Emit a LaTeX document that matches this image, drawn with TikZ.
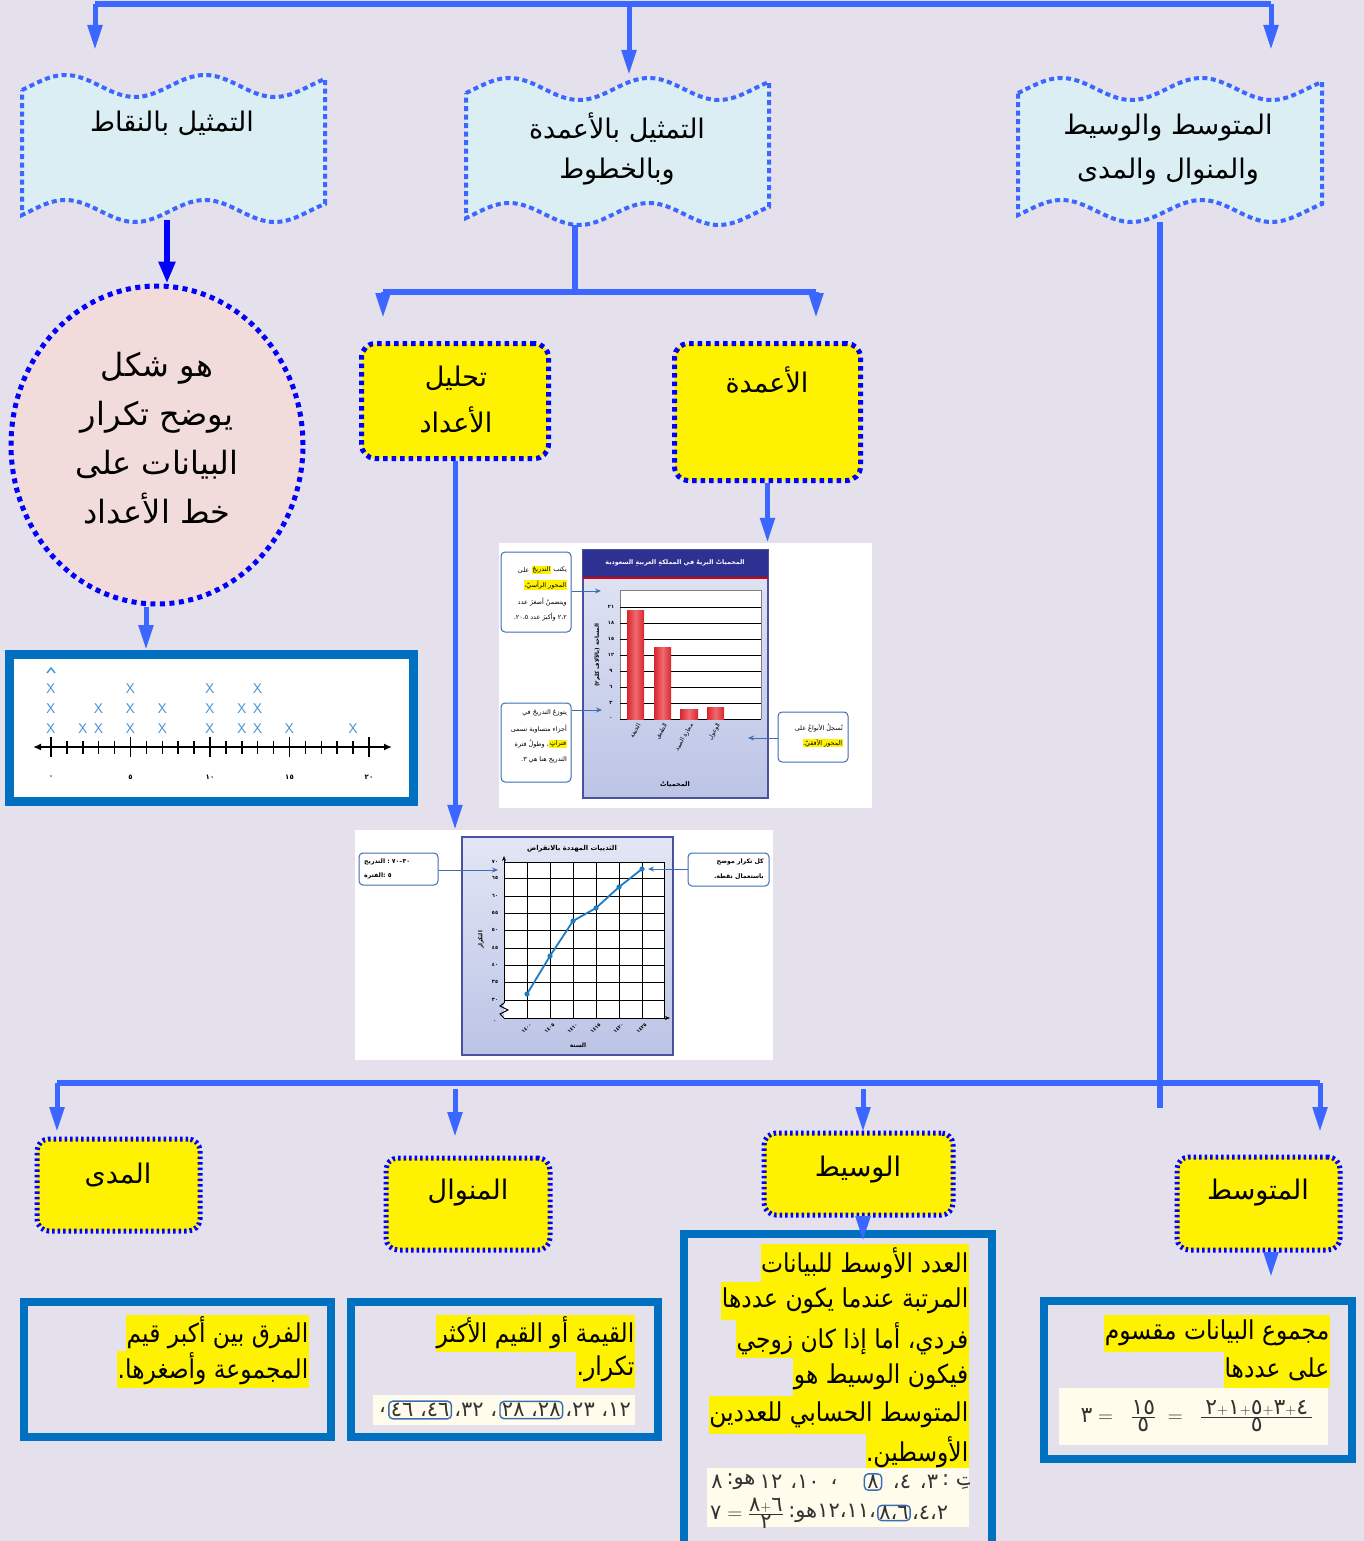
\documentclass[tikz,border=0pt]{standalone}
\usepackage{fontspec}
\usepackage{graphicx}
\usetikzlibrary{arrows.meta,shapes.geometric,calc}
\TeXXeTstate=1
\newfontfamily\arf[Script=Arabic]{DejaVu Sans}
\newcommand\AR[1]{\beginR #1\endR}
\newcommand\SQ[1]{\scalebox{0.9}[1]{\AR{#1}}}
\newcommand\W[1]{\hbox{#1}}
\newcommand\Dg[1]{\hbox{\arf #1}}
\definecolor{bgc}{HTML}{E4E0EC}
\definecolor{conn}{HTML}{3B66FF}
\definecolor{dkb}{HTML}{0000FF}
\definecolor{frm}{HTML}{0070C0}
\definecolor{wavyfill}{HTML}{DAEEF3}
\definecolor{pinkfill}{HTML}{F2DCDB}
\definecolor{cream}{HTML}{FFFCEB}
\definecolor{navy}{HTML}{2E3192}
\definecolor{chartT}{HTML}{E2E6F4}
\definecolor{chartB}{HTML}{BCC4E6}
\definecolor{chartedge}{HTML}{4A52A0}
\definecolor{callb}{HTML}{3C6DB4}
\definecolor{plotline}{HTML}{1C7CC4}
\definecolor{xcol}{HTML}{3D8FD6}
\definecolor{barD}{HTML}{D9262E}
\definecolor{barL}{HTML}{F06A70}
\definecolor{numc}{HTML}{333333}
\newcommand\wavyshape[4]{%
  \path[wavy] plot[domain=#1:#2,samples=90] (\x,{#3-11*cos(360*(2.17*(\x-#1)/(#2-#1)-0.31))})
   -- plot[domain=#2:#1,samples=90] (\x,{#4-11*cos(360*(2.17*(\x-#1)/(#2-#1)-0.31))}) -- cycle;}
\begin{document}
\begin{tikzpicture}[x=1pt,y=-1pt,
  connline/.style={draw=conn, line width=5.5pt},
  arr/.style={draw=conn, line width=5pt, -{Triangle[length=25pt,width=14pt]}},
  arrd/.style={draw=dkb, line width=6pt, -{Triangle[length=22pt,width=16pt]}},
  wavy/.style={fill=wavyfill, draw=conn, line width=4pt, dash pattern=on 5pt off 3.5pt},
  ybox/.style={fill=yellow, draw=dkb, line width=5pt, dash pattern=on 4.5pt off 4pt, rounded corners=14pt, inner sep=0pt},
  yboxd/.style={fill=yellow, draw=dkb, line width=5pt, dash pattern=on 2.5pt off 3pt, rounded corners=12pt, inner sep=0pt},
  frm/.style={draw=frm, line width=8pt},
  ttl/.style={font=\arf\fontsize{27}{34}\selectfont, inner sep=0pt},
  hl/.style={fill=yellow, anchor=east, inner xsep=0.5pt, inner ysep=0pt, minimum height=37pt, font=\arf\fontsize{26}{32}\selectfont},
  strip/.style={fill=cream, inner sep=0pt},
  numt/.style={font=\arf\fontsize{21}{24}\selectfont, text=numc, inner xsep=1pt, inner ysep=0pt},
  nbox/.style={numt, draw=callb, line width=1.4pt, rounded corners=4pt, inner xsep=2pt, inner ysep=2pt},
  xmark/.style={font=\sffamily\fontsize{14}{14}\selectfont, text=xcol, inner sep=0pt},
  tiny/.style={font=\arf\fontsize{6}{8}\selectfont, inner sep=0pt},
  tinyb/.style={font=\arf\bfseries\fontsize{6}{8}\selectfont, inner sep=0pt},
  callout/.style={draw=callb, fill=white, rounded corners=4pt, line width=1pt, inner sep=0pt},
  cl/.style={font=\arf\fontsize{6.4}{8}\selectfont, inner sep=0pt, anchor=east},
  clh/.style={cl, fill=yellow, inner sep=0.6pt},
  clb/.style={font=\arf\bfseries\fontsize{6.2}{8}\selectfont, inner sep=0pt},
  carr/.style={draw=callb, line width=1pt, -{Stealth[length=6pt,width=5pt]}}
]
\useasboundingbox (0,0) rectangle (1364,1541);
\fill[bgc] (0,0) rectangle (1364,1541);

% ---------- top wavy boxes ----------
\wavyshape{22}{325}{86}{211}
\wavyshape{466}{769}{89}{214}
\wavyshape{1018}{1322}{89}{211}
\node[ttl] (tPoints) at (172,123) {\AR{التمثيل بالنقاط}};
\node[ttl] (tBars1) at (617,128) {\AR{التمثيل بالأعمدة}};
\node[ttl] (tBars2) at (617,172) {\AR{وبالخطوط}};
\node[ttl] (tMean1) at (1168,128) {\AR{المتوسط والوسيط}};
\node[ttl] (tMean2) at (1168,172) {\AR{والمنوال والمدى}};

\coordinate (topL) at (95,4);
\coordinate (topM) at (629,4);
\coordinate (topR) at (1271,4);
\coordinate (wLtop) at (95,50);
\coordinate (wMtop) at (629,75);
\coordinate (wRtop) at (1271,50);
\draw[connline] (topL) -- (topR);
\draw[arr] (topL) -- (wLtop);
\draw[arr] (topM) -- (wMtop);
\draw[arr] (topR) -- (wRtop);

% ---------- circle ----------
\node[ellipse, fill=pinkfill, draw=dkb, line width=5pt, dash pattern=on 5pt off 4.5pt,
      minimum width=292pt, minimum height=318pt] (circ) at (157,445) {};
\node[font=\arf\fontsize{32}{49}\selectfont, align=center, inner sep=0pt] (circText) at (157,438)
  {\AR{هو شكل}\\\AR{يوضح تكرار}\\\AR{البيانات على}\\\AR{خط الأعداد}};
\coordinate (wLbot) at (167,220);
\draw[arrd] (wLbot) -- (circ.north -| wLbot);

% ---------- line plot ----------
\node[draw=frm, line width=9pt, fill=white, minimum width=404pt, minimum height=147pt, inner sep=0pt] (lplot) at (211.5,728) {};
\draw[arr] (circ.south -| 146,0) -- (lplot.north -| 146,0);
\draw[line width=2.5pt, {Latex[length=8pt,width=7pt]}-{Latex[length=8pt,width=7pt]}] (33,747) -- (392,747);
\foreach \i in {0,...,20} { \draw[line width=1.5pt] ({51+\i*15.9},741) -- ({51+\i*15.9},754); }
\foreach \i in {0,5,10,15,20} { \draw[line width=1.9pt] ({51+\i*15.9},737) -- ({51+\i*15.9},757); }
\foreach \v/\n in {0/3,2/1,3/2,5/3,7/2,10/3,12/2,13/3,15/1,19/1} {
  \foreach \k in {1,...,\n} { \node[xmark] (xm-\v-\k) at ({51+\v*15.9},{749-\k*20}) {X}; }
}
\draw[xcol, line width=1.4pt] (47,673) -- (51,668) -- (55,673);
\foreach \v/\t in {0/٠,5/٥,10/١٠,15/١٥,20/٢٠} { \node[tinyb, font=\arf\bfseries\fontsize{7}{8}\selectfont] (lbl-\v) at ({51+\v*15.9},777) {\t}; }

% ---------- middle branch ----------
\coordinate (wMbot) at (575,225);
\coordinate (midJ) at (575,292);
\coordinate (midL) at (383,292);
\coordinate (midR) at (816,292);
\draw[connline] (wMbot) -- (midJ);
\draw[connline] (midL) -- (midR);
\node[ybox, minimum width=187pt, minimum height=115pt] (tahlil) at (455,401) {};
\node[ybox, minimum width=186pt, minimum height=137pt] (aamida) at (767.5,412) {};
\draw[arr] (midL) -- (383,318);
\draw[arr] (midR) -- (816,318);
\node[ttl] (tTahlil1) at (456,378) {\AR{تحليل}};
\node[ttl] (tTahlil2) at (456,420) {\AR{الأعداد}};
\node[ttl] (tAamida) at (767,380) {\AR{الأعمدة}};

% ---------- bar chart image ----------
\node[fill=white, minimum width=373pt, minimum height=265pt, inner sep=0pt] (barimg) at (685.5,675.5) {};
\draw[arr] (aamida.south) -- (barimg.north -| aamida.south);
\draw[chartedge, line width=1.2pt, top color=chartT, bottom color=chartB] (583,550) rectangle (768,798);
\fill[navy] (583,550) rectangle (768,577);
\draw[red!85!black, line width=2pt] (583,578) -- (768,578);
\node[tinyb, text=white, font=\arf\bfseries\fontsize{6.3}{8}\selectfont] (barTitle) at (675,563) {\AR{المحمياتُ البريةُ في المملكةِ العربيةِ السعودية}};
\fill[white] (620,590) rectangle (761,719);
\draw[gray, line width=0.8pt] (620,590) -- (761,590) (620,590) -- (620,719) (761,590) -- (761,719);
\foreach \yy in {607,623,639,655,671,687,703,719} { \draw[black, line width=1pt] (620,\yy) -- (761,\yy); }
\foreach \yy/\t in {607/٢١,623/١٨,639/١٥,655/١٢,671/٩,687/٦,703/٣,719/٠} { \node[tinyb, font=\arf\bfseries\fontsize{5}{6}\selectfont] (by-\yy) at (611,\yy) {\t}; }
\foreach \xa/\xb/\yt in {627/644/610,654/671/647,680/698/709,707/724/707} {
  \shade[left color=barD, right color=barD, middle color=barL] (\xa,\yt) rectangle (\xb,719);
}
\node[tinyb, rotate=90, font=\arf\bfseries\fontsize{5.5}{7}\selectfont] (barYl) at (597,655) {\AR{المساحة (بالآلاف كلم٢)}};
\foreach \xx/\t [count=\c] in {639/الخنفة,666/الطبيق,692/محازة الصيد,719/الوعول} {
  \node[tiny, rotate=60, anchor=east] (bc-\c) at (\xx,724) {\AR{\t}};
}
\node[tinyb, font=\arf\bfseries\fontsize{6.5}{8}\selectfont] (barXl) at (675,785) {\AR{المحمياتُ}};
% callouts of the bar chart
\node[callout, minimum width=70pt, minimum height=80pt] (cb1) at (536,592) {};
\node[cl] (cb1a) at (567,570) {\W{يكتب}};
\node[clh] (cb1b) at ([xshift=-2pt]cb1a.west) {\W{التدريجُ}};
\node[cl] (cb1c) at ([xshift=-2pt]cb1b.west) {\W{على}};
\node[clh] (cb1d) at (567,585) {\AR{المحور الرأسيّ،}};
\node[cl] (cb1e) at (567,602) {\AR{ويتضمنُ أصغرَ عدد}};
\node[cl] (cb1f) at (567,617) {\AR{٢،٢ وأكبرَ عدد ٢٠،٥.}};
\node[callout, minimum width=70pt, minimum height=79pt] (cb2) at (536,742.5) {};
\node[cl] (cb2a) at (567,713) {\AR{يتوزعُ التدريجُ في}};
\node[cl] (cb2b) at (567,729) {\AR{أجزاء متساوية تسمى}};
\node[clh] (cb2c) at (567,744) {\W{فتراتٍ}};
\node[cl] (cb2d) at (cb2c.west) {\AR{، وطولُ فترة}};
\node[cl] (cb2e) at (567,760) {\AR{التدريج هنا هي ٣.}};
\node[callout, minimum width=70pt, minimum height=50pt] (cb3) at (813,737) {};
\node[cl] (cb3a) at (843,728) {\AR{تُسجلُ الأنواعُ على}};
\node[clh] (cb3b) at (843,743) {\AR{المحور الأفقيّ.}};
\coordinate (cb1t) at (601,591);
\coordinate (cb2t) at (602,710);
\coordinate (cb3t) at (748,738);
\draw[carr] (cb1.east |- cb1t) -- (cb1t);
\draw[carr] (cb2.east |- cb2t) -- (cb2t);
\draw[carr] (cb3.west |- cb3t) -- (cb3t);

% ---------- line graph image ----------
\node[fill=white, minimum width=418pt, minimum height=230pt, inner sep=0pt] (lineimg) at (564,945) {};
\draw[arr] (tahlil.south -| 455,0) -- (lineimg.north -| 455,0);
\draw[chartedge, line width=1.2pt, top color=chartT, bottom color=chartB] (462,837) rectangle (673,1055);
\node[tinyb, font=\arf\bfseries\fontsize{6.8}{8}\selectfont] (lgTitle) at (572,849) {\AR{الثدييات المهددة بالانقراض}};
\fill[white] (504,862) rectangle (664,1018);
\foreach \xx in {527,550,573,596,619,642,664} { \draw[black, line width=0.9pt] (\xx,862) -- (\xx,1018); }
\foreach \yy in {862,878,896,913,930,948,965,982,1000} { \draw[black, line width=0.9pt] (504,\yy) -- (664,\yy); }
\draw[black, line width=1pt, -{Stealth[length=5pt,width=4pt]}] (504,1018) -- (670,1018);
\draw[black, line width=1pt, -{Stealth[length=5pt,width=4pt]}] (504,1003) -- (504,856);
\draw[black, line width=1pt] (504,1003) -- (500,1006) -- (508,1010) -- (500,1014) -- (504,1018);
\foreach \yy/\t in {862/٧٠,878/٦٥,896/٦٠,913/٥٥,930/٥٠,948/٤٥,965/٤٠,982/٣٥,1000/٣٠,1022/٠} { \node[tinyb, font=\arf\bfseries\fontsize{5}{6}\selectfont] (ly-\yy) at (495,\yy) {\t}; }
\node[tinyb, rotate=90, font=\arf\bfseries\fontsize{5.5}{7}\selectfont] (lgYl) at (481,940) {\AR{التكرار}};
\draw[plotline, line width=1.8pt] (527,994) -- (550,956) -- (573,921) -- (596,908) -- (619,887) -- (642,869);
\foreach \px/\py [count=\c] in {527/994,550/956,573/921,596/908,619/887,642/869} { \fill[plotline] (\px,\py) circle (2.6); }
\foreach \xx/\t in {527/١٤٠٠,550/١٤٠٥,573/١٤١٠,596/١٤١٥,619/١٤٢٠,642/١٤٢٥} {
  \node[tinyb, rotate=45, anchor=east, font=\arf\bfseries\fontsize{5}{6}\selectfont] (lx-\xx) at (\xx+4,1024) {\t};
}
\node[tinyb, font=\arf\bfseries\fontsize{6}{8}\selectfont] (lgXl) at (578,1045) {\AR{السنة}};
\node[callout, minimum width=79pt, minimum height=32pt] (lc1) at (398.5,869) {};
\node[clb, anchor=west] (lc1a) at (364,862) {\W{التدريج}\ \W{:}\ \W{٧٠}\W{–}\W{٣٠}};
\node[clb, anchor=west] (lc1b) at (364,876) {\W{الفترة}\W{:}\ \W{٥}};
\node[callout, minimum width=81pt, minimum height=33pt] (lc2) at (728.5,869.5) {};
\node[clb, anchor=east] (lc2a) at (764,862) {\AR{كل تكرار موضح}};
\node[clb, anchor=east] (lc2b) at (764,877) {\AR{باستعمال نقطة.}};
\coordinate (lc1t) at (498,870);
\coordinate (lc2t) at (648,869);
\draw[carr] (lc1.east |- lc1t) -- (lc1t);
\draw[carr] (lc2.west |- lc2t) -- (lc2t);

% ---------- bottom branch ----------
\coordinate (wRbot) at (1160,222);
\coordinate (rightEnd) at (1160,1108);
\coordinate (botL) at (57,1083);
\coordinate (botR) at (1320,1083);
\draw[connline] (wRbot) -- (rightEnd);
\draw[connline] (botL) -- (botR);
\node[yboxd, minimum width=163pt, minimum height=92pt] (mada) at (118.5,1185) {};
\node[yboxd, minimum width=164pt, minimum height=92pt] (manwal) at (468,1204) {};
\node[yboxd, minimum width=189pt, minimum height=82pt] (wasit) at (858.5,1174) {};
\node[yboxd, minimum width=163pt, minimum height=93pt] (mutaw) at (1258.5,1203.5) {};
\draw[arr] (botL) -- (57,1132);
\draw[arr] (455,1089) -- (455,1137);
\draw[arr] (863,1089) -- (863,1132);
\draw[arr] (botR) -- (1320,1132);
\node[ttl] (tMada) at (118,1175) {\AR{المدى}};
\node[ttl] (tManwal) at (468,1193) {\AR{المنوال}};
\node[ttl] (tWasit) at (858,1170) {\AR{الوسيط}};
\node[ttl] (tMutaw) at (1258,1193) {\AR{المتوسط}};

% definition frames
\draw[frm] (24,1302) rectangle (331,1437);
\draw[frm] (351,1302) rectangle (658,1437);
\draw[frm] (684,1234) rectangle (992,1552);
\draw[frm] (1044,1301) rectangle (1352,1459);
\coordinate (medTop) at (863,1241);
\coordinate (meanTop) at (1271,1277);
\draw[arr] (wasit.south -| medTop) -- (medTop);
\draw[arr] (mutaw.south -| meanTop) -- (meanTop);

% range
\node[hl] (dR1) at (309,1333) {\SQ{الفرق بين أكبر قيم}};
\node[hl] (dR2) at (309,1369) {\SQ{المجموعة وأصغرها.}};
% mode
\node[hl] (dM1) at (635,1333) {\SQ{القيمة أو القيم الأكثر}};
\node[hl] (dM2) at (635,1369) {\SQ{تكرار.}};
\node[strip, minimum width=262pt, minimum height=30pt] (mStrip) at (504,1410) {};
\node[numt, anchor=east] (m5) at (632,1410) {\W{،}\W{٢٣}\ \W{،}\W{١٢}};
\node[nbox, anchor=east] (m4) at ([xshift=-1pt]m5.west) {\W{٢٨}\ \W{،}\W{٢٨}};
\node[numt, anchor=east] (m3) at ([xshift=-1pt]m4.west) {\W{،}\W{٣٢}\ \W{،}};
\node[nbox, anchor=east] (m2) at ([xshift=-1pt]m3.west) {\W{٤٦}\ \W{،}\W{٤٦}};
\node[numt, anchor=east] (m1) at ([xshift=-1pt]m2.west) {\W{،}};
% median
\node[hl, minimum height=38pt] (dW1) at (969,1263) {\SQ{العدد الأوسط للبيانات}};
\node[hl, minimum height=38pt] (dW2) at (969,1301) {\SQ{المرتبة عندما يكون عددها}};
\node[hl, minimum height=38pt] (dW3) at (969,1339) {\SQ{فردي، أما إذا كان زوجي}};
\node[hl, minimum height=38pt] (dW4) at (969,1377) {\SQ{فيكون الوسيط هو}};
\node[hl, minimum height=38pt] (dW5) at (969,1415) {\SQ{المتوسط الحسابي للعددين}};
\node[hl, minimum height=38pt] (dW6) at (969,1452) {\SQ{الأوسطين.}};
\node[strip, minimum width=262pt, minimum height=59pt] (wStrip) at (838,1497.5) {};
\begin{scope}
\clip (707,1468) rectangle (969,1527);
\node[numt] (w1a) at (717,1482) {\W{٨}};
\node[numt] (w1b) at (741,1482) {\W{:}\W{هو}};
\node[numt] (w1c) at (771,1482) {\W{١٢}};
\node[numt] (w1d) at (805,1482) {\W{،}\W{١٠}};
\node[numt] (w1e) at (834,1482) {\W{،}};
\node[nbox, inner ysep=1.5pt, inner xsep=3pt] (w1f) at (873,1482) {\W{٨}};
\node[numt] (w1g) at (902,1482) {\W{،}\W{٤}};
\node[numt] (w1h) at (929,1482) {\W{،}\W{٣}};
\node[numt, anchor=west] (w1i) at (941,1482) {\W{:}\ \W{تِ}};
\node[numt, anchor=west] (w2a) at (709,1513) {$\Dg{٧}=\frac{\Dg{٨}+\Dg{٦}}{\Dg{٢}}$};
\node[numt, anchor=west] (w2b) at ([xshift=2pt]w2a.east) {\W{:}\W{هو}\W{١٢}\W{،}\W{١١}\W{،}};
\node[nbox, anchor=west, inner ysep=1pt, inner xsep=1.5pt] (w2c) at (w2b.east) {\W{٨}\W{،}\W{٦}};
\node[numt, anchor=west] (w2d) at (w2c.east) {\W{،}\W{٤}\W{،}\W{٢}};
\end{scope}
% mean
\node[hl] (dA1) at (1330,1333) {\SQ{مجموع البيانات مقسوم}};
\node[hl] (dA2) at (1330,1369) {\SQ{على عددها}};
\node[strip, minimum width=269pt, minimum height=57pt] (aStrip) at (1193.5,1416.5) {};
\node[numt, font=\arf\fontsize{22}{26}\selectfont] (aForm) at (1197,1416)
  {$\Dg{٣}=\;\;\frac{\Dg{١٥}}{\Dg{٥}}\;=\;\;\frac{\;\Dg{٢}+\Dg{١}+\Dg{٥}+\Dg{٣}+\Dg{٤}\;}{\Dg{٥}}$};
\end{tikzpicture}
\end{document}
